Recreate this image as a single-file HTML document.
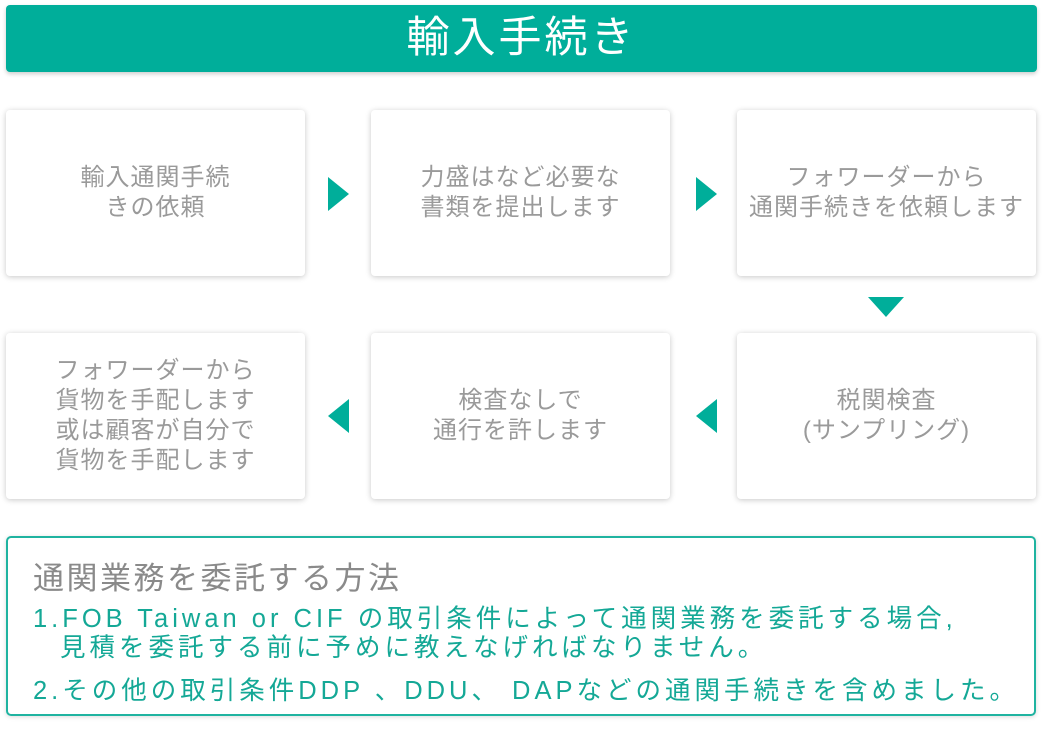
<!DOCTYPE html>
<html><head><meta charset="utf-8"><style>
body{margin:0;width:1042px;height:730px;background:#fff;position:relative;font-family:"Liberation Sans","Noto Sans CJK JP",sans-serif;overflow:hidden}
.hd{position:absolute;left:6px;top:5px;width:1031px;height:67px;background:#00ae9a;border-radius:4px;color:#fff;font-size:43px;letter-spacing:3px;text-align:center;line-height:67px;box-shadow:0 2px 4px rgba(0,0,0,.2)}
.b{position:absolute;width:299px;height:166px;background:#fff;border-radius:4px;box-shadow:0 1px 6px rgba(0,0,0,.22);display:flex;align-items:center;justify-content:center;text-align:center;color:#9a9a9a;font-size:24px;letter-spacing:1px;line-height:30px}
.t{position:absolute;width:0;height:0}
.r{border-top:17px solid transparent;border-bottom:17px solid transparent;border-left:21px solid #00ae9a}
.l{border-top:17px solid transparent;border-bottom:17px solid transparent;border-right:21px solid #00ae9a}
.d{border-left:18px solid transparent;border-right:18px solid transparent;border-top:20px solid #00ae9a}
.box{position:absolute;left:6px;top:536px;width:1026px;height:176px;border:2px solid #1fb3a0;border-radius:5px;box-shadow:0 1px 5px rgba(0,0,0,.15)}
.p{position:absolute;white-space:nowrap;color:#14a896;font-size:25.5px;letter-spacing:4px}
</style></head><body>
<div class="hd">輸入手続き</div>
<div class="b" style="left:6px;top:110px">輸入通関手続<br>きの依頼</div>
<div class="b" style="left:371px;top:110px">力盛はなど必要な<br>書類を提出します</div>
<div class="b" style="left:737px;top:110px">フォワーダーから<br>通関手続きを依頼します</div>
<div class="b" style="left:6px;top:333px">フォワーダーから<br>貨物を手配します<br>或は顧客が自分で<br>貨物を手配します</div>
<div class="b" style="left:371px;top:333px">検査なしで<br>通行を許します</div>
<div class="b" style="left:737px;top:333px">税関検査<br>(サンプリング)</div>
<div class="t r" style="left:328px;top:177px"></div>
<div class="t r" style="left:696px;top:177px"></div>
<div class="t d" style="left:868px;top:297px"></div>
<div class="t l" style="left:328px;top:399px"></div>
<div class="t l" style="left:696px;top:399px"></div>
<div class="box"></div>
<div class="p" style="left:33px;top:553px;color:#8a8a8a;font-size:31px;letter-spacing:2.5px">通関業務を委託する方法</div>
<div class="p" style="left:33px;top:598px">1.FOB Taiwan or CIF の取引条件によって通関業務を委託する場合,</div>
<div class="p" style="left:60px;top:627px">見積を委託する前に予めに教えなげればなりません。</div>
<div class="p" style="left:33px;top:670px">2.その他の取引条件DDP 、DDU、 DAPなどの通関手続きを含めました。</div>
</body></html>
